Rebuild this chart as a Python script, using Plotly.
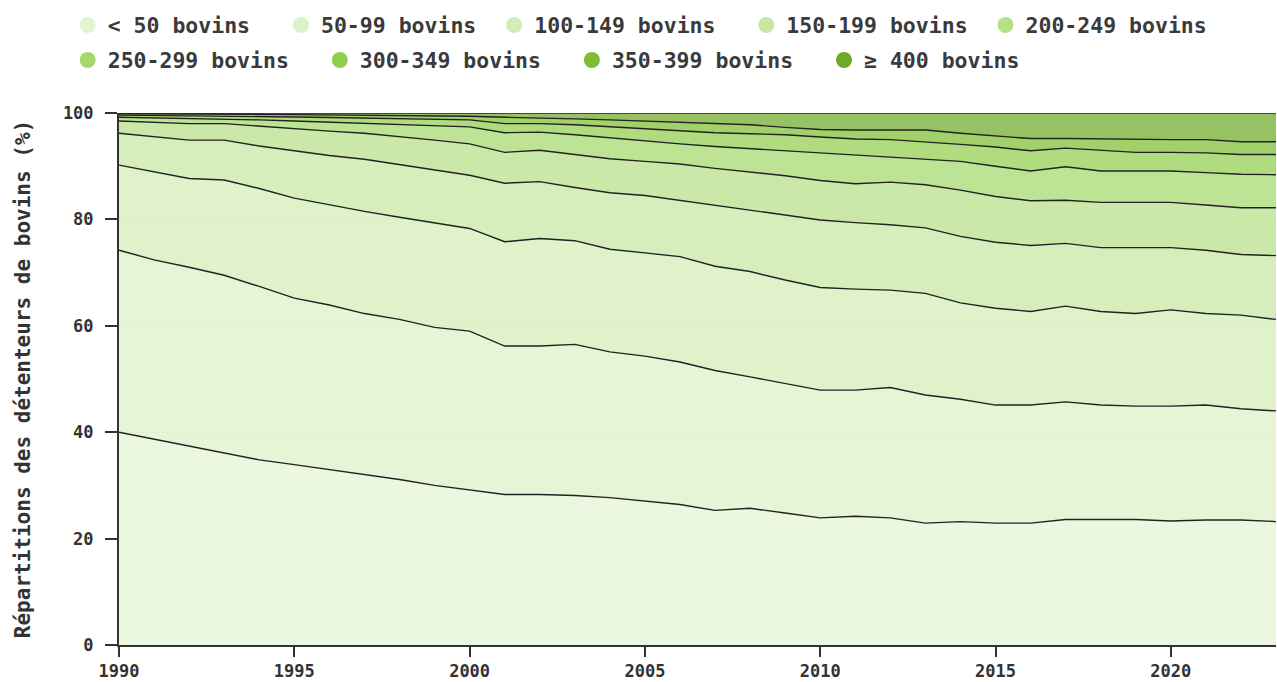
import plotly.graph_objects as go

# Années
annees = list(range(1990, 2024))

# Classes de taille des troupeaux
classes = ["< 50 bovins", "50-99 bovins", "100-149 bovins", "150-199 bovins",
           "200-249 bovins", "250-299 bovins", "300-349 bovins", "350-399 bovins",
           "≥ 400 bovins"]

couleurs = ["#e3f4d2", "#dbf1c6", "#d2edb6", "#c6e8a2", "#b6e188",
            "#a4d96c", "#92cf4e", "#7ebe32", "#6eaa28"]

# Parts cumulées (%) : limite haute de chaque classe
cumul_50 = [40.0, 38.7, 37.4, 36.1, 34.8, 33.9, 33.0, 32.0, 31.1, 30.0,
            29.2, 28.3, 28.3, 28.1, 27.7, 27.1, 26.4, 25.3, 25.7, 24.8,
            23.9, 24.2, 23.9, 22.9, 23.2, 22.9, 22.9, 23.6, 23.6, 23.6,
            23.3, 23.5, 23.5, 23.2]
cumul_100 = [74.2, 72.4, 71.0, 69.5, 67.4, 65.2, 63.9, 62.3, 61.2, 59.7,
             59.0, 56.2, 56.2, 56.5, 55.1, 54.3, 53.2, 51.6, 50.4, 49.2,
             47.9, 47.9, 48.4, 47.0, 46.2, 45.1, 45.1, 45.7, 45.1, 44.9,
             44.9, 45.1, 44.4, 44.0]
cumul_150 = [90.2, 89.0, 87.7, 87.4, 85.8, 84.0, 82.7, 81.5, 80.4, 79.3,
             78.3, 75.8, 76.4, 76.0, 74.4, 73.7, 73.0, 71.2, 70.2, 68.6,
             67.2, 66.9, 66.7, 66.1, 64.3, 63.3, 62.7, 63.7, 62.7, 62.3,
             63.0, 62.3, 62.0, 61.2]
cumul_200 = [96.2, 95.5, 94.9, 94.9, 93.8, 92.9, 92.0, 91.3, 90.3, 89.3,
             88.3, 86.8, 87.1, 86.0, 85.0, 84.5, 83.6, 82.7, 81.8, 80.8,
             79.9, 79.4, 79.0, 78.4, 76.8, 75.7, 75.1, 75.5, 74.7, 74.7,
             74.7, 74.2, 73.4, 73.2]
cumul_250 = [98.5, 98.3, 98.0, 98.0, 97.5, 97.0, 96.6, 96.2, 95.6, 94.9,
             94.2, 92.6, 93.0, 92.2, 91.4, 90.9, 90.4, 89.6, 88.9, 88.2,
             87.3, 86.7, 87.0, 86.5, 85.5, 84.3, 83.5, 83.6, 83.2, 83.2,
             83.2, 82.7, 82.2, 82.2]
cumul_300 = [99.2, 99.1, 99.0, 98.9, 98.7, 98.5, 98.3, 98.1, 97.9, 97.6,
             97.4, 96.3, 96.4, 95.9, 95.3, 94.8, 94.2, 93.7, 93.3, 92.9,
             92.4, 92.0, 91.7, 91.3, 90.9, 90.0, 89.1, 89.9, 89.1, 89.1,
             89.1, 88.8, 88.5, 88.4]
cumul_350 = [99.6, 99.55, 99.5, 99.45, 99.35, 99.25, 99.15, 99.05, 98.95, 98.8,
             98.7, 98.0, 98.0, 97.8, 97.4, 97.0, 96.6, 96.3, 96.1, 95.9,
             95.5, 95.1, 95.0, 94.6, 94.1, 93.6, 92.9, 93.4, 93.0, 92.6,
             92.6, 92.5, 92.2, 92.2]
cumul_400 = [99.85, 99.85, 99.8, 99.8, 99.75, 99.7, 99.65, 99.6, 99.55, 99.5,
             99.4, 99.2, 99.1, 98.9, 98.7, 98.5, 98.3, 98.1, 97.8, 97.3,
             96.9, 96.8, 96.8, 96.8, 96.2, 95.7, 95.2, 95.2, 95.1, 95.0,
             95.0, 95.0, 94.6, 94.6]
cumul_total = [100] * len(annees)

limites = [cumul_50, cumul_100, cumul_150, cumul_200, cumul_250,
           cumul_300, cumul_350, cumul_400, cumul_total]

# espacement des entrées de légende (nb d'espaces insécables) et ligne de légende
pad_legende = [2, 1, 2, 1, 0, 2, 2, 2, 0]
ligne_legende = ["legend"] * 5 + ["legend2"] * 4


def rgba(hex_color, a):
    h = hex_color.lstrip("#")
    return "rgba({},{},{},{})".format(int(h[0:2], 16), int(h[2:4], 16), int(h[4:6], 16), a)


fig = go.Figure()

for i, (nom, y) in enumerate(zip(classes, limites)):
    fig.add_trace(go.Scatter(
        x=annees, y=y, name=nom, mode="lines",
        line=dict(color="#222", width=1.4),
        fill="tozeroy" if i == 0 else "tonexty",
        fillcolor=rgba(couleurs[i], 0.72),
        showlegend=False, hoverinfo="x+y+name",
    ))

# légende à pastilles rondes, sur deux lignes
for nom, c, p, lg in zip(classes, couleurs, pad_legende, ligne_legende):
    fig.add_trace(go.Scatter(
        x=[None], y=[None], mode="markers", name=nom + "\u00a0" * p,
        marker=dict(size=18, color=c), showlegend=True, legend=lg,
    ))

police_leg = dict(family="DejaVu Sans Mono", weight="bold", color="#3a3a3a", size=21.5)
leg_commun = dict(orientation="h", xref="container", yref="container", x=0.053,
                  xanchor="left", yanchor="middle", font=police_leg,
                  itemsizing="trace", traceorder="normal", bgcolor="rgba(0,0,0,0)")

fig.update_layout(
    width=1277, height=682,
    margin=dict(l=119, r=1, t=113, b=37),
    plot_bgcolor="white", paper_bgcolor="white",
    font=dict(family="DejaVu Sans Mono", weight="bold", color="#333", size=17),
    legend=dict(leg_commun, y=1 - 25 / 682),
    legend2=dict(leg_commun, y=1 - 60 / 682),
    xaxis=dict(range=[1990, 2023], tickvals=[1990, 1995, 2000, 2005, 2010, 2015, 2020],
               showgrid=False, showline=True, linecolor="#333", linewidth=2,
               ticks="outside", ticklen=10, tickwidth=2, tickcolor="#333", zeroline=False),
    yaxis=dict(range=[0, 100], tickvals=[0, 20, 40, 60, 80, 100],
               showgrid=True, gridcolor="#eeeeee", showline=True, linecolor="#333",
               linewidth=2, ticks="outside", ticklen=12, tickwidth=2, tickcolor="#333",
               ticklabelstandoff=8, zeroline=False,
               title=dict(text="Répartitions des détenteurs de bovins (%)",
                          font=dict(family="DejaVu Sans Mono", weight="bold", size=21, color="#333"),
                          standoff=27)),
)

fig.write_html("out.html", config={"displayModeBar": False},
               post_script="document.body.style.margin='0';document.body.style.overflow='hidden';")
